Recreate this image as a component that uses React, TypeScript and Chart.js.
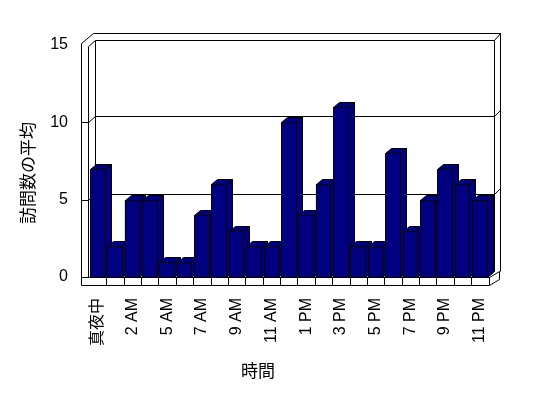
import React, { useEffect, useRef } from 'react';
import { Chart, registerables } from 'chart.js';

Chart.register(...registerables);

const categories = ['真夜中', '1 AM', '2 AM', '3 AM', '5 AM', '6 AM', '7 AM', '8 AM', '9 AM', '10 AM', '11 AM', '12 PM', '1 PM', '2 PM', '3 PM', '4 PM', '5 PM', '6 PM', '7 PM', '8 PM', '9 PM', '10 PM', '11 PM'];
const visits = [7, 2, 5, 5, 1, 1, 4, 6, 3, 2, 2, 10, 4, 6, 11, 2, 2, 8, 3, 5, 7, 6, 5];
const yGridValues = [5, 10];
const yMin = 0;
const yMax = 15;
const yStep = 5;
const yTitle = '訪問数の平均';
const xTitle = '時間';

const NAVY = '#000080';
const FONT = '"Liberation Sans", Arial, "Noto Sans CJK JP", sans-serif';
const CJK_FONT = '"Noto Sans CJK JP", "Liberation Sans", sans-serif';

const h = (v: number) => Math.round(v) + 0.5;

function line(ctx: CanvasRenderingContext2D, pts: number[][]) {
  ctx.beginPath();
  ctx.moveTo(pts[0][0] + 0.5, pts[0][1] + 0.5);
  for (let i = 1; i < pts.length; i++) ctx.lineTo(pts[i][0] + 0.5, pts[i][1] + 0.5);
  ctx.stroke();
}

const box3d = {
  id: 'box3d',
  beforeDatasetsDraw(chart: any) {
    const { ctx, chartArea: a, scales } = chart;
    const ys = scales.y;
    const xs = scales.x;
    const iw = Math.floor(a.left) - 1;
    const ow = iw - 7;
    const bw = iw + 7;
    const T = Math.round(ys.getPixelForValue(yMax));
    const B = Math.round(ys.getPixelForValue(yMin));
    const R = Math.round(a.right);
    ctx.save();
    ctx.strokeStyle = '#000';
    ctx.lineWidth = 1;
    // left wall and back wall edges
    line(ctx, [[ow, B + 8], [ow, T - 2], [ow + 12, T - 12], [R + 11, T - 12], [R + 11, B - 6]]);
    line(ctx, [[iw, B], [iw, T + 1], [bw, T - 5], [R + 5, T - 5], [R + 11, T - 12]]);
    line(ctx, [[bw, T - 5], [bw, B - 6], [R + 5, B - 6]]);
    line(ctx, [[R + 5, T - 5], [R + 5, B - 6]]);
    // gridlines
    for (const v of yGridValues) {
      const gy = Math.round(ys.getPixelForValue(v));
      line(ctx, [[ow, gy], [iw, gy], [bw, gy - 6], [R + 5, gy - 6], [R + 11, gy - 12]]);
    }
    // floor
    line(ctx, [[ow, B], [R, B], [R, B + 8], [ow, B + 8]]);
    const n = categories.length;
    for (let i = 1; i < n; i++) {
      const bx = Math.round((xs.getPixelForTick(i - 1) + xs.getPixelForTick(i)) / 2);
      line(ctx, [[bx, B], [bx, B + 8]]);
    }
    line(ctx, [[R, B], [R + 10, B - 6], [R + 10, B + 2], [R, B + 8]]);
    ctx.restore();
  },
  afterDatasetsDraw(chart: any) {
    const { ctx } = chart;
    const meta = chart.getDatasetMeta(0);
    const dx = 6;
    const dy = -5;
    ctx.save();
    ctx.strokeStyle = '#000';
    ctx.fillStyle = NAVY;
    ctx.lineWidth = 1;
    meta.data.forEach((el: any) => {
      const { x, y, base, width } = el.getProps(['x', 'y', 'base', 'width'], true);
      const l = h(x - width / 2);
      const r = h(x + width / 2) - 1;
      const t = h(y);
      const b = h(base);
      const poly = (pts: number[][]) => {
        ctx.beginPath();
        ctx.moveTo(pts[0][0], pts[0][1]);
        for (let i = 1; i < pts.length; i++) ctx.lineTo(pts[i][0], pts[i][1]);
        ctx.closePath();
        ctx.fill();
        ctx.stroke();
      };
      poly([[r, t], [r + dx, t + dy], [r + dx, b + dy], [r, b]]);
      poly([[l, t], [l + dx, t + dy], [r + dx, t + dy], [r, t]]);
      poly([[l, t], [r, t], [r, b], [l, b]]);
    });
    ctx.restore();
  },
  afterDraw(chart: any) {
    const { ctx } = chart;
    ctx.save();
    ctx.fillStyle = '#000';
    ctx.font = `17px ${CJK_FONT}`;
    ctx.textAlign = 'center';
    ctx.textBaseline = 'middle';
    ctx.fillText(xTitle, 258, 371);
    ctx.translate(28, 173);
    ctx.rotate(-Math.PI / 2);
    ctx.fillText(yTitle, 0, 0);
    ctx.restore();
  },
};

export default function App() {
  const ref = useRef<HTMLCanvasElement>(null);
  useEffect(() => {
    document.body.style.margin = '0';
    const chart = new Chart(ref.current as HTMLCanvasElement, {
      type: 'bar',
      data: {
        labels: categories,
        datasets: [
          {
            label: yTitle,
            data: visits,
            backgroundColor: NAVY,
            borderColor: '#000',
            borderWidth: 1,
            barPercentage: 0.9,
            categoryPercentage: 1.0,
          },
        ],
      },
      options: {
        responsive: false,
        animation: false,
        devicePixelRatio: 1,
        layout: { padding: { top: 45, right: 59.5, bottom: 0, left: 0 } },
        plugins: {
          legend: { display: false },
          tooltip: { enabled: false },
        },
        scales: {
          x: {
            grid: { display: false },
            border: { display: false },
            ticks: {
              color: '#000',
              font: { family: FONT, size: 16 },
              autoSkip: false,
              minRotation: 90,
              maxRotation: 90,
              padding: 13,
              callback: (_v: any, i: number) => (i % 2 === 0 ? categories[i] : ''),
            },
            afterFit: (s: any) => {
              s.height = 121;
            },
          },
          y: {
            min: yMin,
            max: yMax,
            grid: { display: false },
            border: { display: false },
            ticks: {
              stepSize: yStep,
              color: '#000',
              font: { family: FONT, size: 16 },
              padding: 13,
            },
            afterFit: (s: any) => {
              s.width = 89;
            },
          },
        },
      },
      plugins: [box3d],
    } as any);
    return () => chart.destroy();
  }, []);
  return (
    <div style={{ width: 548, height: 398, background: '#fff' }}>
      <canvas ref={ref} width={548} height={398} style={{ display: 'block' }} />
    </div>
  );
}
